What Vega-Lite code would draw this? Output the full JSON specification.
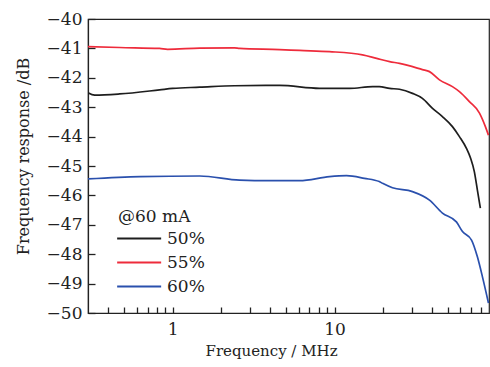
{
  "$schema": "https://vega.github.io/schema/vega-lite/v6.json",
  "width": 401,
  "height": 294,
  "autosize": {"type": "none"},
  "padding": {"left": 88, "top": 19, "right": 1, "bottom": 54},
  "background": "white",
  "config": {
    "view": {"stroke": "#222", "strokeWidth": 1.2},
    "font": "DejaVu Serif",
    "axis": {"grid": false, "ticks": true, "tickWidth": 1.3, "domainColor": "#222", "domainWidth": 1.2, "tickColor": "#222", "labelColor": "#222", "titleColor": "#222", "labelFont": "DejaVu Serif", "titleFont": "DejaVu Serif", "titleFontWeight": "normal", "labelFontSize": 17, "titleFontSize": 15}
  },
  "data": {"values": [
    {"f": 0.30, "db": -40.94, "s": "55%"},
    {"f": 0.47, "db": -40.97, "s": "55%"},
    {"f": 0.83, "db": -41.0, "s": "55%"},
    {"f": 0.93, "db": -41.03, "s": "55%"},
    {"f": 1.47, "db": -40.99, "s": "55%"},
    {"f": 2.41, "db": -40.98, "s": "55%"},
    {"f": 2.59, "db": -41.0, "s": "55%"},
    {"f": 4.58, "db": -41.04, "s": "55%"},
    {"f": 6.08, "db": -41.07, "s": "55%"},
    {"f": 9.31, "db": -41.11, "s": "55%"},
    {"f": 14.9, "db": -41.22, "s": "55%"},
    {"f": 18.2, "db": -41.34, "s": "55%"},
    {"f": 21.9, "db": -41.45, "s": "55%"},
    {"f": 25.2, "db": -41.51, "s": "55%"},
    {"f": 34.9, "db": -41.72, "s": "55%"},
    {"f": 38.6, "db": -41.79, "s": "55%"},
    {"f": 44.5, "db": -42.07, "s": "55%"},
    {"f": 53.5, "db": -42.3, "s": "55%"},
    {"f": 59.1, "db": -42.47, "s": "55%"},
    {"f": 68.1, "db": -42.81, "s": "55%"},
    {"f": 78.6, "db": -43.2, "s": "55%"},
    {"f": 85.5, "db": -43.66, "s": "55%"},
    {"f": 89.3, "db": -43.95, "s": "55%"},
    {"f": 0.30, "db": -42.51, "s": "50%"},
    {"f": 0.33, "db": -42.59, "s": "50%"},
    {"f": 0.47, "db": -42.55, "s": "50%"},
    {"f": 0.83, "db": -42.41, "s": "50%"},
    {"f": 1.0, "db": -42.36, "s": "50%"},
    {"f": 1.47, "db": -42.32, "s": "50%"},
    {"f": 2.41, "db": -42.27, "s": "50%"},
    {"f": 4.58, "db": -42.26, "s": "50%"},
    {"f": 8.08, "db": -42.36, "s": "50%"},
    {"f": 12.4, "db": -42.36, "s": "50%"},
    {"f": 17.2, "db": -42.30, "s": "50%"},
    {"f": 18.9, "db": -42.30, "s": "50%"},
    {"f": 21.9, "db": -42.36, "s": "50%"},
    {"f": 25.2, "db": -42.39, "s": "50%"},
    {"f": 30.3, "db": -42.53, "s": "50%"},
    {"f": 34.9, "db": -42.70, "s": "50%"},
    {"f": 40.3, "db": -43.04, "s": "50%"},
    {"f": 46.4, "db": -43.32, "s": "50%"},
    {"f": 53.5, "db": -43.66, "s": "50%"},
    {"f": 59.1, "db": -44.0, "s": "50%"},
    {"f": 65.3, "db": -44.4, "s": "50%"},
    {"f": 69.2, "db": -44.73, "s": "50%"},
    {"f": 73.1, "db": -45.2, "s": "50%"},
    {"f": 76.3, "db": -45.82, "s": "50%"},
    {"f": 79.6, "db": -46.43, "s": "50%"},
    {"f": 0.30, "db": -45.44, "s": "60%"},
    {"f": 0.63, "db": -45.36, "s": "60%"},
    {"f": 1.47, "db": -45.34, "s": "60%"},
    {"f": 2.59, "db": -45.48, "s": "60%"},
    {"f": 3.97, "db": -45.5, "s": "60%"},
    {"f": 6.08, "db": -45.5, "s": "60%"},
    {"f": 9.31, "db": -45.36, "s": "60%"},
    {"f": 11.86, "db": -45.33, "s": "60%"},
    {"f": 15.3, "db": -45.42, "s": "60%"},
    {"f": 18.9, "db": -45.53, "s": "60%"},
    {"f": 19.8, "db": -45.59, "s": "60%"},
    {"f": 22.8, "db": -45.74, "s": "60%"},
    {"f": 30.3, "db": -45.87, "s": "60%"},
    {"f": 38.6, "db": -46.16, "s": "60%"},
    {"f": 46.4, "db": -46.6, "s": "60%"},
    {"f": 56.6, "db": -46.9, "s": "60%"},
    {"f": 61.7, "db": -47.23, "s": "60%"},
    {"f": 70.2, "db": -47.52, "s": "60%"},
    {"f": 76.3, "db": -48.09, "s": "60%"},
    {"f": 82.0, "db": -48.77, "s": "60%"},
    {"f": 89.3, "db": -49.66, "s": "60%"}
  ]},
  "mark": {"type": "line", "strokeWidth": 1.7, "interpolate": "monotone", "clip": true},
  "encoding": {
    "x": {
      "field": "f", "type": "quantitative",
      "scale": {"type": "log", "domain": [0.3, 90], "nice": false},
      "axis": {
        "title": "Frequency / MHz",
        "values": [0.4, 0.5, 0.6, 0.7, 0.8, 0.9, 1, 2, 3, 4, 5, 6, 7, 8, 9, 10, 20, 30, 40, 50, 60, 70, 80],
        "labelExpr": "datum.value == 1 || datum.value == 10 ? format(datum.value, 'd') : ''",
        "tickSize": -6, "labelPadding": 14, "labelFlush": false, "labelOverlap": false,
        "titleX": 183, "titleY": 30, "titleBaseline": "top", "titleAnchor": null
      }
    },
    "y": {
      "field": "db", "type": "quantitative",
      "scale": {"domain": [-50, -40], "nice": false, "zero": false},
      "axis": {
        "title": "Frequency response /dB",
        "titleFontSize": 16,
        "values": [-50, -49, -48, -47, -46, -45, -44, -43, -42, -41, -40],
        "format": "d",
        "tickSize": -7, "labelPadding": 13, "labelFlush": false, "labelOverlap": false,
        "titleX": -65, "titleY": 137, "titleAngle": -90, "titleAlign": "center", "titleBaseline": "middle"
      }
    },
    "color": {
      "field": "s", "type": "nominal",
      "scale": {"domain": ["50%", "55%", "60%"], "range": ["#1e1e1e", "#ee2b3b", "#2a50ad"]},
      "legend": {
        "title": "@60 mA",
        "orient": "none", "legendX": 30, "legendY": 190,
        "titleFont": "DejaVu Serif", "titleFontSize": 17, "titleFontWeight": "normal", "titleColor": "#222",
        "labelFont": "DejaVu Serif", "labelFontSize": 17, "labelColor": "#222",
        "symbolType": "M-1.7,0H6.3", "symbolSize": 121, "symbolStrokeWidth": 2,
        "labelOffset": 32, "rowPadding": 6, "titlePadding": 4
      }
    }
  }
}
